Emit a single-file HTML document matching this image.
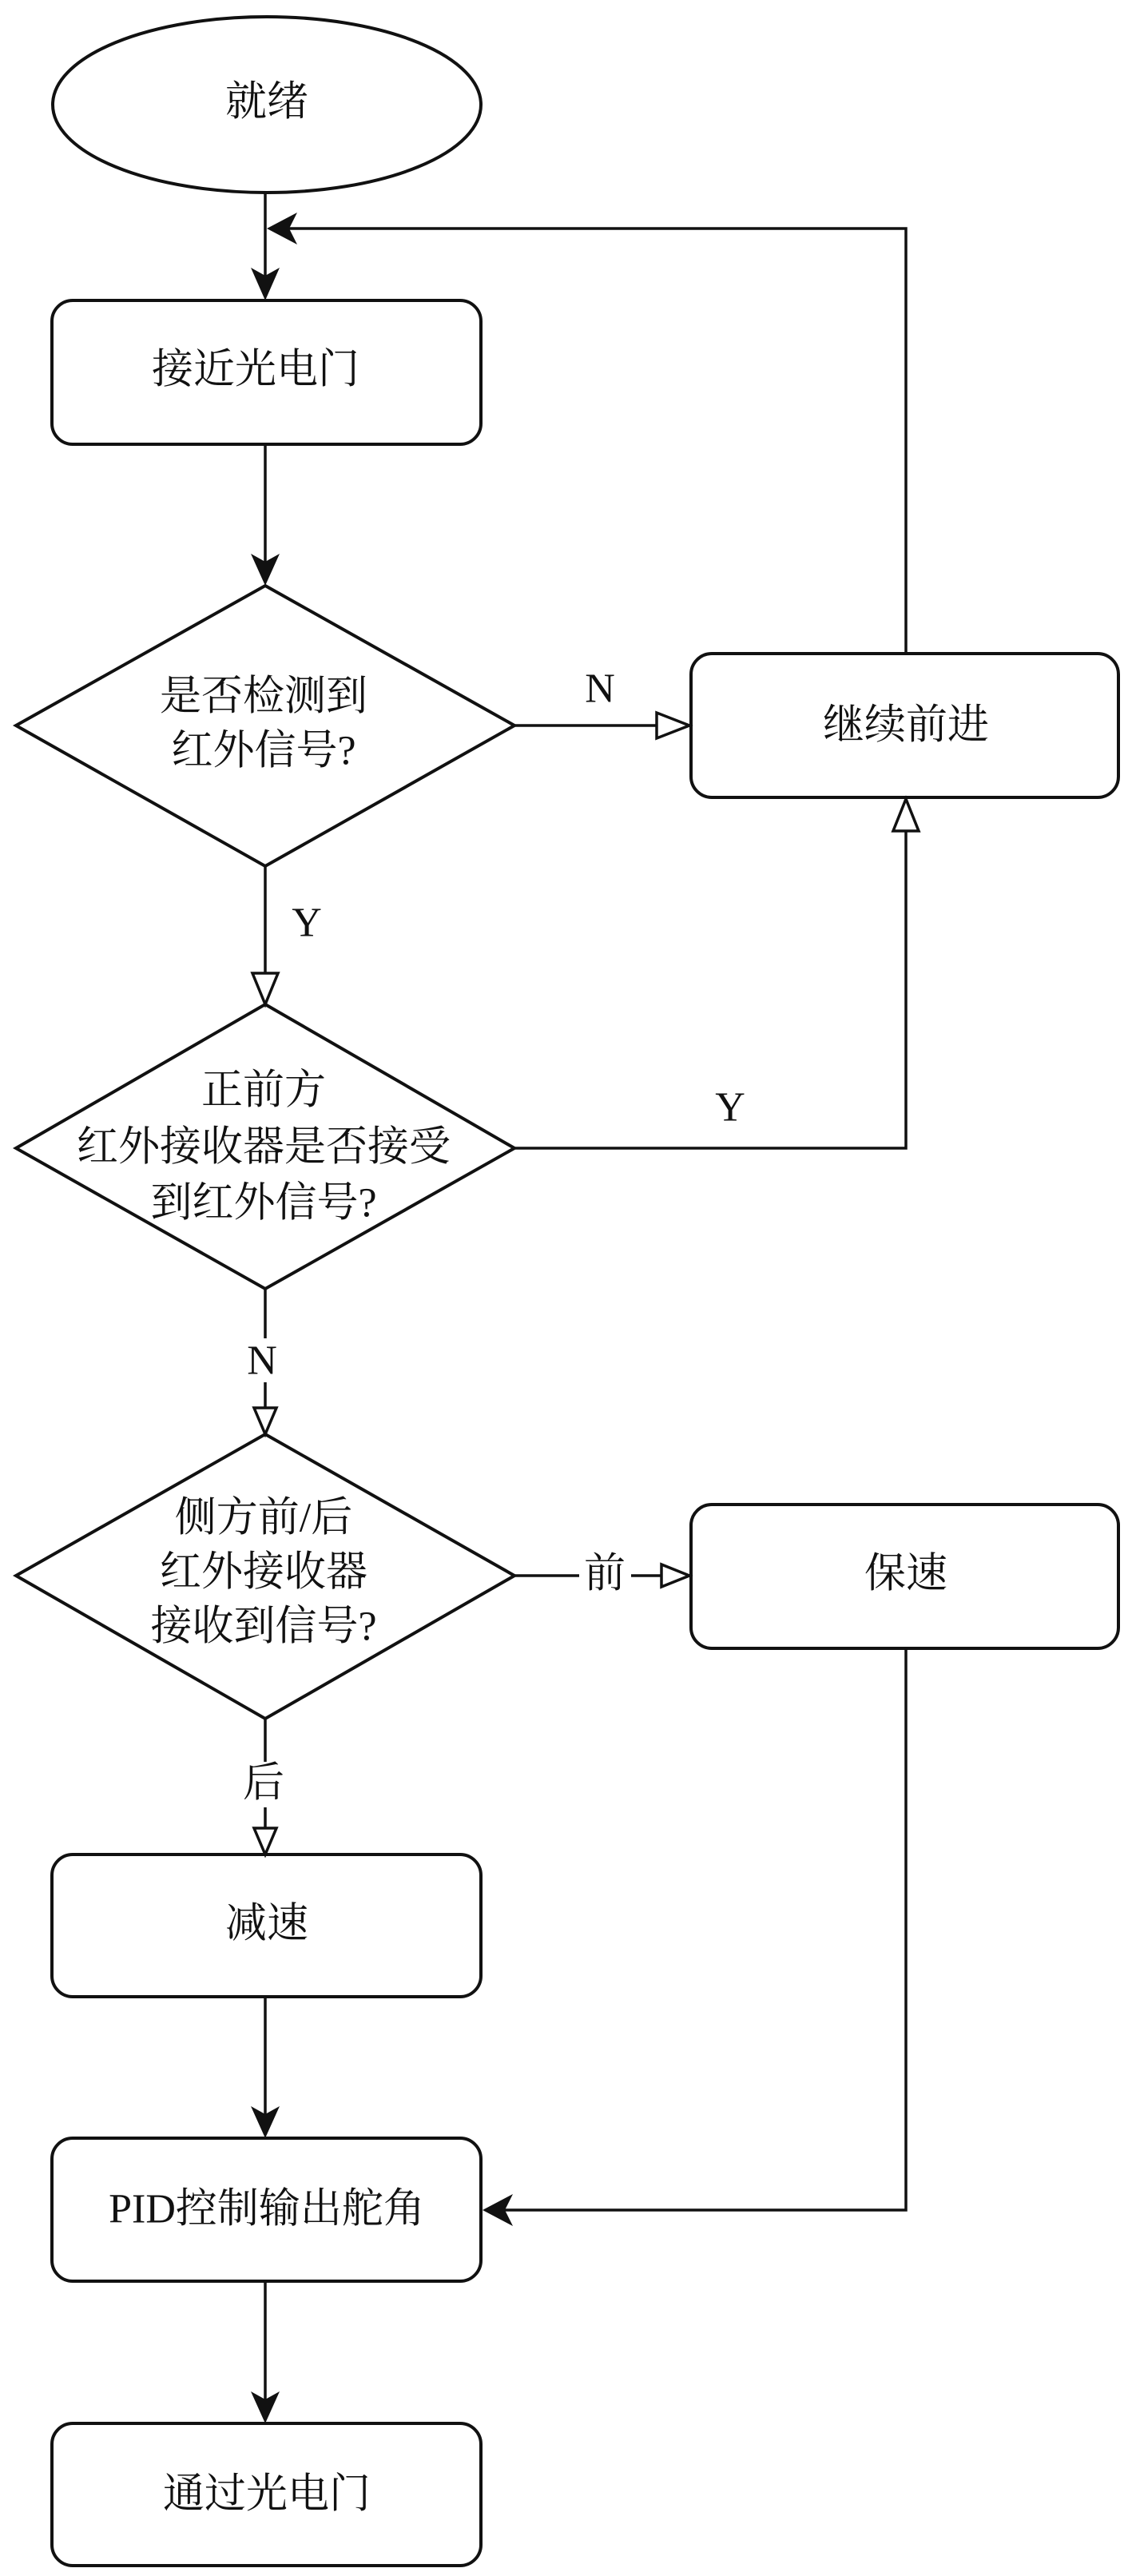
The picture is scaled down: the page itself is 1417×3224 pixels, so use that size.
<!DOCTYPE html>
<html><head><meta charset="utf-8"><style>
html,body{margin:0;padding:0;background:#fff;}
svg{display:block}
text{font-family:"Liberation Serif","Noto Serif CJK SC",serif;font-size:52px;fill:#111;text-anchor:middle;dominant-baseline:central;}
</style></head><body>
<svg width="1417" height="3224" viewBox="0 0 1417 3224" xmlns="http://www.w3.org/2000/svg">
<defs>
<marker id="f" markerWidth="12" markerHeight="12" refX="11" refY="6" orient="auto" markerUnits="userSpaceOnUse" viewBox="0 0 12 12">
</marker>
</defs>
<g fill="none" stroke="#111" stroke-width="4">
<ellipse cx="334" cy="131" rx="268" ry="110"/>
<rect x="65" y="376" width="537" height="180" rx="26"/>
<polygon points="332,733 644,908 332,1084 20,908"/>
<rect x="865" y="818" width="535" height="180" rx="26"/>
<polygon points="332,1257 644,1437 332,1613 20,1437"/>
<polygon points="332,1795 644,1972 332,2151 20,1972"/>
<rect x="865" y="1883" width="535" height="180" rx="26"/>
<rect x="65" y="2321" width="537" height="178" rx="26"/>
<rect x="65" y="2676" width="537" height="179" rx="26"/>
<rect x="65" y="3033" width="537" height="178" rx="26"/>
</g>
<g fill="none" stroke="#111" stroke-width="3.5">
<line x1="332" y1="241" x2="332" y2="350"/>
<polyline points="1134,818 1134,286 360,286"/>
<line x1="332" y1="556" x2="332" y2="705"/>
<line x1="644" y1="908" x2="822" y2="908"/>
<polyline points="644,1437 1134,1437 1134,1040"/>
<line x1="332" y1="1084" x2="332" y2="1218"/>
<line x1="332" y1="1613" x2="332" y2="1675"/>
<line x1="332" y1="1730" x2="332" y2="1762"/>
<line x1="644" y1="1972" x2="725" y2="1972"/>
<line x1="790" y1="1972" x2="828" y2="1972"/>
<line x1="332" y1="2151" x2="332" y2="2205"/>
<line x1="332" y1="2262" x2="332" y2="2288"/>
<line x1="332" y1="2499" x2="332" y2="2650"/>
<polyline points="1134,2063 1134,2766 630,2766"/>
<line x1="332" y1="2855" x2="332" y2="3005"/>
</g>
<g fill="#111" stroke="none">
<polygon points="332,376 314,335 332,345 350,335"/>
<polygon points="334,286 372,266 362,286 372,306"/>
<polygon points="332,733 314,693 332,703 350,693"/>
<polygon points="332,2676 314,2636 332,2646 350,2636"/>
<polygon points="604,2766 642,2746 632,2766 642,2786"/>
<polygon points="332,3033 314,2993 332,3003 350,2993"/>
</g>
<g fill="#fff" stroke="#111" stroke-width="3.5">
<polygon points="863,908 822,892 822,924"/>
<polygon points="1134,1000 1118,1040 1150,1040"/>
<polygon points="332,1257 316,1218 348,1218"/>
<polygon points="332,1795 318,1762 346,1762"/>
<polygon points="863,1972 828,1958 828,1986"/>
<polygon points="332,2321 318,2288 346,2288"/>
</g>
<text x="334" y="128">就绪</text>
<text x="320" y="463">接近光电门</text>
<text x="330" y="872">是否检测到</text>
<text x="330" y="940">红外信号?</text>
<text x="751" y="862">N</text>
<text x="1134" y="908">继续前进</text>
<text x="384" y="1155">Y</text>
<text x="330" y="1365">正前方</text>
<text x="330" y="1436">红外接收器是否接受</text>
<text x="330" y="1506">到红外信号?</text>
<text x="914" y="1386">Y</text>
<text x="328" y="1703">N</text>
<text x="330" y="1900">侧方前/后</text>
<text x="330" y="1968">红外接收器</text>
<text x="330" y="2036">接收到信号?</text>
<text x="757" y="1970">前</text>
<text x="1134" y="1970">保速</text>
<text x="330" y="2232">后</text>
<text x="334" y="2408">减速</text>
<text x="334" y="2765">PID控制输出舵角</text>
<text x="334" y="3122">通过光电门</text>
</svg>
</body></html>
